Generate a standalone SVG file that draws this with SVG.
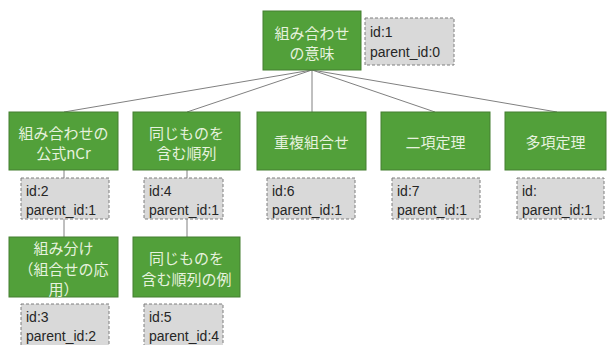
<svg xmlns="http://www.w3.org/2000/svg" width="609" height="345" viewBox="0 0 609 345">
<style>
.n{fill:#52a03a;stroke:#447f30;stroke-width:1}
.t{fill:#e6f2de;font-family:"Noto Sans CJK JP","Liberation Sans",sans-serif;font-size:15px;text-anchor:middle;dominant-baseline:central}
.lb{fill:#d9d9d9;stroke:#7f7f7f;stroke-width:1;stroke-dasharray:3 2}
.l{fill:#262626;font-family:"Liberation Sans","Open Sans",sans-serif;font-size:14px}
.c{stroke:#808080;stroke-width:1;fill:none}
</style>
<rect width="609" height="345" fill="#fff"/>
<g id="connectors">
<line class="c" x1="312" y1="70" x2="64" y2="112"/>
<line class="c" x1="312" y1="70" x2="187" y2="112"/>
<line class="c" x1="312" y1="70" x2="312" y2="112"/>
<line class="c" x1="312" y1="70" x2="435" y2="112"/>
<line class="c" x1="312" y1="70" x2="557" y2="112"/>
<line class="c" x1="64" y1="170" x2="64" y2="178"/>
<line class="c" x1="64" y1="219" x2="64" y2="237"/>
<line class="c" x1="187" y1="170" x2="187" y2="178"/>
<line class="c" x1="187" y1="219" x2="187" y2="237"/>
</g>
<g id="n1">
<rect class="n" x="263" y="11" width="98" height="59"/>
<text class="t" x="312" y="32">組み合わせ</text>
<text class="t" x="312" y="52">の意味</text>
<rect class="lb" x="365" y="18" width="89" height="47"/>
<text class="l" x="370" y="37">id:1</text>
<text class="l" x="370" y="57">parent_id:0</text>
</g>
<g id="n2">
<rect class="n" x="9" y="112" width="109" height="58"/>
<text class="t" x="63.5" y="132">組み合わせの</text>
<text class="t" x="63.5" y="152">公式nCr</text>
<rect class="lb" x="21" y="178" width="88" height="41"/>
<text class="l" x="26" y="196">id:2</text>
<text class="l" x="26" y="215">parent_id:1</text>
</g>
<g id="n4">
<rect class="n" x="133" y="112" width="107" height="58"/>
<text class="t" x="186.5" y="132">同じものを</text>
<text class="t" x="186.5" y="152">含む順列</text>
<rect class="lb" x="144" y="178" width="79" height="41"/>
<text class="l" x="149" y="196">id:4</text>
<text class="l" x="149" y="215">parent_id:1</text>
</g>
<g id="n6">
<rect class="n" x="257" y="112" width="109" height="58"/>
<text class="t" x="311.5" y="141">重複組合せ</text>
<rect class="lb" x="267" y="178" width="88" height="41"/>
<text class="l" x="272" y="196">id:6</text>
<text class="l" x="272" y="215">parent_id:1</text>
</g>
<g id="n7">
<rect class="n" x="381" y="112" width="109" height="58"/>
<text class="t" x="435.5" y="141">二項定理</text>
<rect class="lb" x="392" y="178" width="88" height="41"/>
<text class="l" x="397" y="196">id:7</text>
<text class="l" x="397" y="215">parent_id:1</text>
</g>
<g id="n8">
<rect class="n" x="505" y="112" width="101" height="58"/>
<text class="t" x="555.5" y="141">多項定理</text>
<rect class="lb" x="517" y="178" width="87" height="41"/>
<text class="l" x="522" y="196">id:</text>
<text class="l" x="522" y="215">parent_id:1</text>
</g>
<g id="n3">
<rect class="n" x="9" y="237" width="109" height="60"/>
<text class="t" x="63.5" y="247">組み分け</text>
<text class="t" x="63.5" y="268">（組合せの応</text>
<text class="t" x="63.5" y="288">用）</text>
<rect class="lb" x="21" y="304" width="88" height="45"/>
<text class="l" x="26" y="322">id:3</text>
<text class="l" x="26" y="341">parent_id:2</text>
</g>
<g id="n5">
<rect class="n" x="133" y="237" width="107" height="60"/>
<text class="t" x="186.5" y="257">同じものを</text>
<text class="t" x="186.5" y="278">含む順列の例</text>
<rect class="lb" x="144" y="304" width="79" height="45"/>
<text class="l" x="149" y="322">id:5</text>
<text class="l" x="149" y="341">parent_id:4</text>
</g>
</svg>
